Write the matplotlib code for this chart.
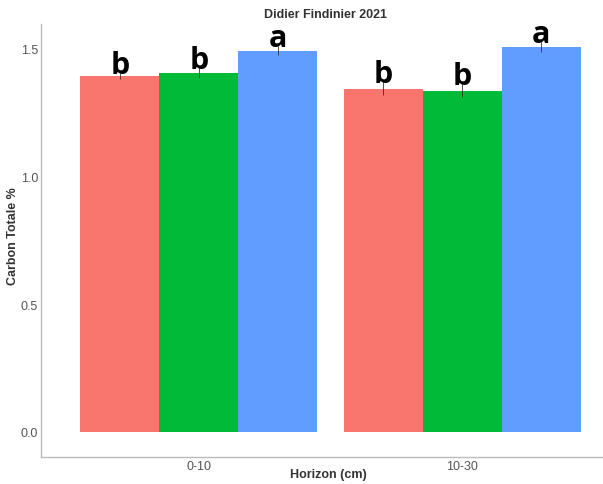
import matplotlib
matplotlib.use("Agg")
import matplotlib.pyplot as plt
import numpy as np

categories = ["0-10", "10-30"]
groups = ["G1", "G2", "G3"]
colors = ["#F8766D", "#00BA38", "#619CFF"]
means = {
    "G1": [1.394, 1.343],
    "G2": [1.406, 1.336],
    "G3": [1.492, 1.508],
}
errors = {
    "G1": [0.012, 0.025],
    "G2": [0.02, 0.025],
    "G3": [0.017, 0.02],
}
letters = {
    "G1": ["b", "b"],
    "G2": ["b", "b"],
    "G3": ["a", "a"],
}

plt.rcParams['font.family'] = ['Liberation Sans', 'DejaVu Sans']
fig = plt.figure(figsize=(6.03, 4.85), dpi=100)
ax = fig.add_axes([41/603, 27/485, 579/603, 433/485])

x = np.arange(len(categories))
width = 0.3
for i, g in enumerate(groups):
    pos = x + (i - 1) * width
    ax.bar(pos, means[g], width=width, color=colors[i], edgecolor='none', zorder=2)
    ax.errorbar(pos, means[g], yerr=errors[g], fmt='none', ecolor='#333333',
                elinewidth=0.6, capsize=0, zorder=3)
    for p, m, e, l in zip(pos, means[g], errors[g], letters[g]):
        ax.text(p, m + e, l, ha='center', va='baseline', fontsize=22,
                fontweight='bold', family=['Open Sans', 'DejaVu Sans'], color='black', zorder=4)

ax.set_xlim(-0.6, 1.6)
ax.set_ylim(-0.098, 1.597)
ax.set_xticks(x)
ax.set_xticklabels(categories)
ax.set_yticks([0.0, 0.5, 1.0, 1.5])
ax.set_yticklabels(["0.0", "0.5", "1.0", "1.5"])
ax.tick_params(axis='both', length=0, labelsize=9, colors='#555555', pad=2)
for s in ['top', 'right']:
    ax.spines[s].set_visible(False)
for s in ['left', 'bottom']:
    ax.spines[s].set_color('#bbbbbb')
    ax.spines[s].set_linewidth(1.0)

fig.text(326/603, 1 - 15/485, "Didier Findinier 2021", ha='center', va='center',
         fontsize=9, fontweight='bold', color='#333333')
fig.text(328/603, 1 - 475/485, "Horizon (cm)", ha='center', va='center',
         fontsize=9, fontweight='bold', color='#333333')
fig.text(13/603, 1 - 236/485, "Carbon Totale %", ha='center', va='center',
         rotation=90, fontsize=9, fontweight='bold', color='#333333')

fig.savefig("out.png", dpi=100)
